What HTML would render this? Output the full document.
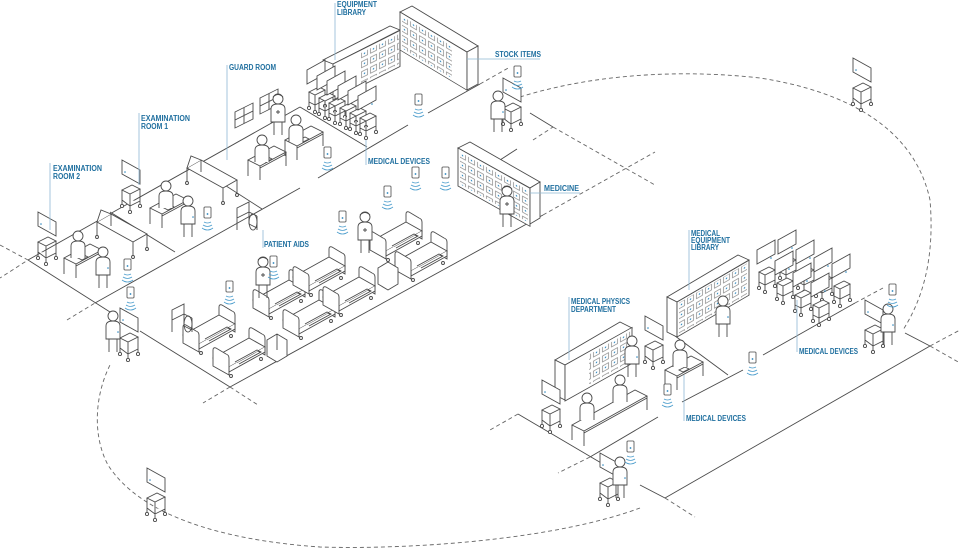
<!DOCTYPE html>
<html><head><meta charset="utf-8"><style>
html,body{margin:0;padding:0;background:#fff;}
svg{display:block;}
text{font-family:"Liberation Sans",sans-serif;font-weight:bold;font-size:8px;fill:#1f6f9f;}
</style></head><body>
<svg width="960" height="549" viewBox="0 0 960 549" xmlns="http://www.w3.org/2000/svg">
<defs>
<pattern id="cells" width="9" height="10" patternUnits="userSpaceOnUse">
<rect x="1.5" y="2" width="6" height="6" fill="none" stroke="#666" stroke-width="0.6"/>
<circle cx="4.5" cy="5" r="0.8" fill="#2a85bd"/>
</pattern>
<g id="p" fill="#fff" stroke="#4a4a4a" stroke-width="0.9">
<path d="M-4,-13 V0 M4,-13 V0"/>
<path d="M-7,-13 V-26 Q-7,-31 0,-31 Q7,-31 7,-26 V-13 Z"/>
<circle cx="0" cy="-36" r="5"/>
<circle cx="5" cy="-20" r="0.8" fill="#2a85bd" stroke="none"/>
</g>
<g id="n" fill="#fff" stroke="#4a4a4a" stroke-width="0.9">
<path d="M-4,-13 V0 M4,-13 V0"/>
<path d="M-7,-13 V-26 Q-7,-31 0,-31 Q7,-31 7,-26 V-13 Z"/>
<path d="M-2,-23 H2 M0,-25 V-21"/>
<circle cx="0" cy="-36" r="5"/>
<path d="M-5,-38 Q0,-43 5,-38"/>
</g>
<g id="s" fill="#fff" stroke="#4a4a4a" stroke-width="0.9">
<path d="M-7,22 V10 Q-7,5 0,5 Q7,5 7,10 V22"/>
<circle cx="0" cy="0" r="5"/>
</g>
<g id="d" fill="#fff" stroke="#4a4a4a" stroke-width="0.9">
<path d="M0,0 L26,-14 L38,-8 L12,6 Z"/>
<path d="M0,0 V16 M12,6 V20 M38,-8 V6 M12,8 L38,-6"/>
<path d="M14,0 l6,-3 l4,2 l-6,3 z" />
</g>
<g id="t" fill="#fff" stroke="#4a4a4a" stroke-width="0.9">
<path d="M0,-28 L18,-38 L18,-52 L0,-42 Z"/>
<path d="M2,-20 L12,-25 L18,-22 L8,-17 Z M2,-20 V-6 M8,-17 V-2 M18,-22 V-8 M2,-10 L8,-7 L18,-12"/>
<circle cx="2" cy="-4" r="1.6"/><circle cx="8" cy="0" r="1.6"/><circle cx="18" cy="-6" r="1.6"/>
<circle cx="14" cy="-34" r="0.8" fill="#2a85bd" stroke="none"/>
</g>
<g id="t2" fill="#fff" stroke="#4a4a4a" stroke-width="0.9">
<path d="M0,-52 L18,-42 L18,-28 L0,-38 Z"/>
<path d="M0,-22 L10,-27 L18,-23 L8,-18 Z M0,-22 V-8 M8,-18 V-2 M18,-23 V-8 M0,-12 L8,-6 L18,-11"/>
<circle cx="0" cy="-6" r="1.6"/><circle cx="8" cy="0" r="1.6"/><circle cx="18" cy="-6" r="1.6"/>
<circle cx="3" cy="-40" r="0.8" fill="#2a85bd" stroke="none"/>
</g>
<g id="ph">
<rect x="-3" y="-6" width="7" height="11" rx="1" fill="#fff" stroke="#4a4a4a" stroke-width="0.8"/>
<circle cx="0.5" cy="1" r="0.9" fill="#2a85bd"/>
<path d="M-3,9 Q0.5,11 4,9 M-4,12 Q0.5,15 5,12 M-5,15 Q0.5,19 6,15" fill="none" stroke="#4a9ccc" stroke-width="0.8"/>
</g>
<g id="b" fill="#fff" stroke="#4a4a4a" stroke-width="0.9">
<path d="M36,-22 L52,-13 L52,-30 Q52,-33 49,-34 L39,-40 Q36,-41 36,-38 Z"/>
<path d="M0,-10 L36,-30 L52,-21 L16,-1 Z"/>
<path d="M16,-1 V4 L52,-16 V-21 M22,-6 L44,-18 L48,-16 L26,-4"/>
<path d="M0,-2 L16,7 L16,-10 Q16,-13 13,-14 L3,-20 Q0,-21 0,-18 Z"/>
<circle cx="18" cy="8" r="1.5"/><circle cx="48" cy="-9" r="1.5"/>
</g>
<g id="et" fill="#fff" stroke="#4a4a4a" stroke-width="0.9">
<path d="M0,0 L14,-8 L50,12 L36,20 Z"/>
<path d="M0,0 V14 M36,20 V34 M50,12 V26 M14,-8 V4"/>
<circle cx="0" cy="15" r="1.5"/><circle cx="36" cy="35" r="1.5"/><circle cx="50" cy="27" r="1.5"/>
<path d="M14,-8 L4,-12 L0,0" />
</g>
<g id="ch" fill="none" stroke="#4a4a4a" stroke-width="0.9">
<path d="M0,0 V-22 L12,-28 V-6 M0,-12 L12,-18 L20,-14 M20,-14 V0 M12,-6 L20,-2"/>
<ellipse cx="16" cy="-8" rx="4" ry="8"/>
</g>
</defs>

<g fill="none" stroke="#4a4a4a" stroke-width="0.9">
<path d="M28,260 L300,107"/>
<path d="M95,303 L300,188 M318,178 L408,125 M428,113 L480,84"/>
<path d="M28,260 L110,312 M140,331 L230,387"/>
<path d="M110,212 L175,252 M195,166 L262,209 M300,107 L367,147"/>
<path d="M230,387 L543,215"/>
<path d="M500,160 L517,149 M530,113 L553,127"/>
<path d="M640,485 L665,498 L930,346 L905,333"/>
<path d="M682,402 L743,370 M763,355 L855,303"/>
<path d="M518,414 L608,467 M590,457 L658,417 M667,330 L728,375"/>
</g>
<g fill="none" stroke="#666" stroke-width="0.9" stroke-dasharray="4,3">
<path d="M0,245 L28,260 L0,278 M67,320 L95,303"/>
<path d="M230,387 L258,405 M230,387 L203,403"/>
<path d="M480,84 L510,67 M553,127 L655,185 M533,140 L553,127 M543,215 L655,152"/>
<path d="M665,498 L695,517 M930,346 L960,363 M930,346 L960,330 M855,303 L883,288"/>
<path d="M518,414 L490,430 M590,457 L558,473"/>
<path d="M520,97 C600,72 690,70 760,78 C850,92 915,130 930,200 C935,260 922,300 903,330"/>
<path d="M640,508 C560,538 420,550 320,547 C220,540 140,515 108,465 C92,435 95,395 110,365"/>
</g>

<g stroke="#4a4a4a" stroke-width="0.9" fill="#fff">
<path d="M323,60 L390,26 L400,30 L333,64 Z"/>
<g transform="matrix(1,-0.5,0,1,333,64)"><rect width="67" height="36"/><rect x="28" y="3" width="38" height="30" fill="url(#cells)" stroke="none"/></g>
<path d="M400,12 L412,6 L478,46 L467,52 Z"/>
<g transform="matrix(1,0.6,0,1,400,12)"><rect width="67" height="38"/><rect x="2" y="3" width="50" height="32" fill="url(#cells)" stroke="none"/></g>
<path d="M467,52 L478,46 V84 L467,90 Z"/>
<path d="M458,148 L470,142 L540,182 L530,188 Z"/>
<g transform="matrix(1,0.56,0,1,458,148)"><rect width="72" height="38"/><rect x="2" y="3" width="68" height="32" fill="url(#cells)" stroke="none"/></g>
<path d="M530,188 L540,182 V218 L530,224 Z"/>
<path d="M667,297 L738,255 L749,260 L677,302 Z"/>
<path d="M667,297 L677,302 V337 L667,332 Z"/>
<g transform="matrix(1,-0.58,0,1,677,302)"><rect width="72" height="35"/><rect x="2" y="2" width="68" height="31" fill="url(#cells)" stroke="none"/></g>
<path d="M555,360 L620,322 L632,328 L565,365 Z"/>
<path d="M555,360 L565,365 V400 L555,395 Z"/>
<g transform="matrix(1,-0.56,0,1,565,365)"><rect width="67" height="36"/><rect x="24" y="3" width="42" height="30" fill="url(#cells)" stroke="none"/></g>
<g transform="matrix(1,-0.5,0,1,235,112)"><rect width="18" height="16"/><path d="M9,0 V16 M0,8 H18"/></g>
<g transform="matrix(1,-0.5,0,1,260,98)"><rect width="18" height="16"/><path d="M9,0 V16 M0,8 H18"/></g>
</g>

<use href="#t" x="307" y="112"/><use href="#t" x="317" y="118"/><use href="#t" x="327" y="123"/>
<use href="#t" x="338" y="128"/><use href="#t" x="348" y="133"/><use href="#t" x="358" y="138"/>
<use href="#t" x="778" y="282"/><use href="#t" x="796" y="292"/><use href="#t" x="814" y="300"/><use href="#t" x="832" y="306"/>
<use href="#t" x="757" y="292"/><use href="#t" x="775" y="303"/><use href="#t" x="793" y="315"/><use href="#t" x="811" y="325"/>
<use href="#t2" x="122" y="212"/><use href="#t2" x="38" y="264"/><use href="#t2" x="645" y="368"/>
<use href="#t2" x="853" y="110"/><use href="#t2" x="147" y="520"/>
<use href="#t2" x="865" y="352"/><use href="#t2" x="600" y="505"/><use href="#t2" x="120" y="360"/><use href="#t2" x="503" y="130"/>
<use href="#t2" x="542" y="432"/>

<use href="#et" x="187" y="168"/><use href="#et" x="97" y="222"/>
<use href="#d" x="248" y="160"/><use href="#d" x="285" y="140"/><use href="#d" x="150" y="208"/><use href="#d" x="64" y="258"/>
<use href="#d" x="665" y="370"/>
<path d="M572,425 L635,390 L647,396 L584,431 Z M572,425 V440 M584,431 V446 M647,396 V410 M584,433 L647,398" fill="#fff" stroke="#4a4a4a" stroke-width="0.9"/>

<use href="#s" x="262" y="140"/><use href="#s" x="296" y="120"/><use href="#s" x="166" y="186"/><use href="#s" x="78" y="236"/>
<use href="#s" x="587" y="398"/><use href="#s" x="620" y="380"/><use href="#s" x="680" y="345"/>

<use href="#b" x="183" y="345"/><use href="#b" x="213" y="368"/><use href="#b" x="253" y="310"/><use href="#b" x="283" y="330"/>
<use href="#b" x="293" y="287"/><use href="#b" x="323" y="307"/><use href="#b" x="370" y="252"/><use href="#b" x="395" y="272"/>
<use href="#ch" x="237" y="230"/><use href="#ch" x="172" y="332"/>
<path d="M267,340 L277,334 L287,340 V356 L277,362 L267,356 Z M277,334 V350 M378,268 L388,262 L398,268 V284 L388,290 L378,284 Z" fill="#fff" stroke="#4a4a4a" stroke-width="0.9"/>

<use href="#n" x="278" y="135"/><use href="#p" x="188" y="237"/><use href="#p" x="103" y="288"/><use href="#p" x="113" y="352"/>
<use href="#p" x="498" y="132"/><use href="#n" x="365" y="253"/><use href="#n" x="507" y="227"/><use href="#n" x="263" y="298"/>
<use href="#p" x="723" y="337"/><use href="#p" x="632" y="377"/><use href="#p" x="620" y="498"/><use href="#p" x="888" y="345"/>

<use href="#ph" x="207" y="213"/><use href="#ph" x="127" y="265"/><use href="#ph" x="130" y="293"/><use href="#ph" x="229" y="287"/>
<use href="#ph" x="342" y="217"/><use href="#ph" x="415" y="173"/><use href="#ph" x="327" y="153"/><use href="#ph" x="418" y="100"/>
<use href="#ph" x="517" y="72"/><use href="#ph" x="445" y="173"/><use href="#ph" x="752" y="358"/><use href="#ph" x="667" y="390"/>
<use href="#ph" x="630" y="447"/><use href="#ph" x="892" y="290"/><use href="#ph" x="387" y="192"/><use href="#ph" x="273" y="262"/>

<g stroke="#8fb8d4" stroke-width="0.8" fill="none">
<path d="M335,3 V60 M227,65 V160 M139,113 V185 M50,163 V230 M467,59 H540 M366,140 V165 M530,193 H580 M263,230 V248 M569,297 V360 M689,230 V290 M797,300 V352 M684,375 V421"/>
</g>
<text x="337" y="7" textLength="40" lengthAdjust="spacingAndGlyphs">EQUIPMENT</text>
<text x="337" y="15" textLength="29" lengthAdjust="spacingAndGlyphs">LIBRARY</text>
<text x="229" y="70" textLength="47" lengthAdjust="spacingAndGlyphs">GUARD ROOM</text>
<text x="141" y="121" textLength="49" lengthAdjust="spacingAndGlyphs">EXAMINATION</text>
<text x="141" y="129" textLength="27" lengthAdjust="spacingAndGlyphs">ROOM 1</text>
<text x="53" y="171" textLength="49" lengthAdjust="spacingAndGlyphs">EXAMINATION</text>
<text x="53" y="179" textLength="27" lengthAdjust="spacingAndGlyphs">ROOM 2</text>
<text x="495" y="57" textLength="46" lengthAdjust="spacingAndGlyphs">STOCK ITEMS</text>
<text x="368" y="164" textLength="62" lengthAdjust="spacingAndGlyphs">MEDICAL DEVICES</text>
<text x="544" y="191" textLength="35" lengthAdjust="spacingAndGlyphs">MEDICINE</text>
<text x="264" y="247" textLength="45" lengthAdjust="spacingAndGlyphs">PATIENT AIDS</text>
<text x="571" y="304" textLength="59" lengthAdjust="spacingAndGlyphs">MEDICAL PHYSICS</text>
<text x="571" y="312" textLength="45" lengthAdjust="spacingAndGlyphs">DEPARTMENT</text>
<text x="691" y="236" textLength="29" lengthAdjust="spacingAndGlyphs">MEDICAL</text>
<text x="691" y="243" textLength="39" lengthAdjust="spacingAndGlyphs">EQUIPMENT</text>
<text x="691" y="250" textLength="28" lengthAdjust="spacingAndGlyphs">LIBRARY</text>
<text x="799" y="354" textLength="59" lengthAdjust="spacingAndGlyphs">MEDICAL DEVICES</text>
<text x="686" y="421" textLength="60" lengthAdjust="spacingAndGlyphs">MEDICAL DEVICES</text>
</svg>
</body></html>
